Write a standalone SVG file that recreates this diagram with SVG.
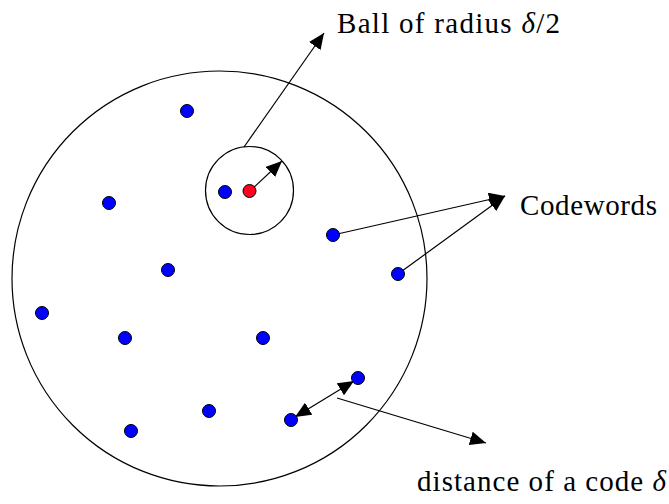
<svg xmlns="http://www.w3.org/2000/svg" width="669" height="504" viewBox="0 0 669 504">
<style>
.ring{fill:none;stroke:#000;stroke-width:1.2}
.cw{fill:#0000ff;stroke:#000;stroke-width:1}
.ctr{fill:#ff0022;stroke:#000;stroke-width:1}
.conn{fill:none;stroke:#000;stroke-width:1.2}
.lbl{font-family:"Liberation Serif","Times New Roman",serif;font-size:29px;fill:#000}
</style>
<defs>
<marker id="ah" markerUnits="userSpaceOnUse" markerWidth="17" markerHeight="14" refX="16" refY="7" orient="auto-start-reverse">
<path d="M0,0 L16,7 L0,14 z" fill="#000"/>
</marker>
</defs>
<rect width="669" height="504" fill="#fff"/>
<g id="space"><circle class="ring" cx="219.5" cy="278.5" r="207.5"/></g>
<g id="ball"><circle class="ring" cx="249.5" cy="190.5" r="44"/></g>
<g id="connectors">
<line class="conn" x1="244" y1="147" x2="324" y2="33" marker-end="url(#ah)"/>
<line class="conn" x1="250" y1="191" x2="282" y2="161" marker-end="url(#ah)"/>
<line class="conn" x1="333" y1="235" x2="505" y2="196" marker-end="url(#ah)"/>
<line class="conn" x1="398" y1="274" x2="505" y2="196" marker-end="url(#ah)"/>
<line class="conn" x1="295" y1="417" x2="354" y2="381" marker-start="url(#ah)" marker-end="url(#ah)"/>
<line class="conn" x1="337" y1="398" x2="486" y2="443" marker-end="url(#ah)"/>
</g>
<g id="codewords">
<circle class="cw" cx="187" cy="111" r="6.5"/>
<circle class="cw" cx="109" cy="203" r="6.5"/>
<circle class="cw" cx="225" cy="192" r="6.5"/>
<circle class="cw" cx="333" cy="235" r="6.5"/>
<circle class="cw" cx="168" cy="270" r="6.5"/>
<circle class="cw" cx="398" cy="274" r="6.5"/>
<circle class="cw" cx="42" cy="313" r="6.5"/>
<circle class="cw" cx="125" cy="338" r="6.5"/>
<circle class="cw" cx="263" cy="338" r="6.5"/>
<circle class="cw" cx="358" cy="378" r="6.5"/>
<circle class="cw" cx="209" cy="411" r="6.5"/>
<circle class="cw" cx="291" cy="420" r="6.5"/>
<circle class="cw" cx="131" cy="431" r="6.5"/>
</g>
<g id="center"><circle class="ctr" cx="249.5" cy="191" r="6.5"/></g>
<g id="label-ball"><text class="lbl" x="337" y="33" textLength="223" lengthAdjust="spacing">Ball of radius <tspan font-style="italic">δ</tspan>/2</text></g>
<g id="label-codewords"><text class="lbl" x="520" y="215" textLength="137" lengthAdjust="spacing">Codewords</text></g>
<g id="label-distance"><text class="lbl" x="417" y="491" textLength="249" lengthAdjust="spacing">distance of a code <tspan font-style="italic">δ</tspan></text></g>
</svg>
